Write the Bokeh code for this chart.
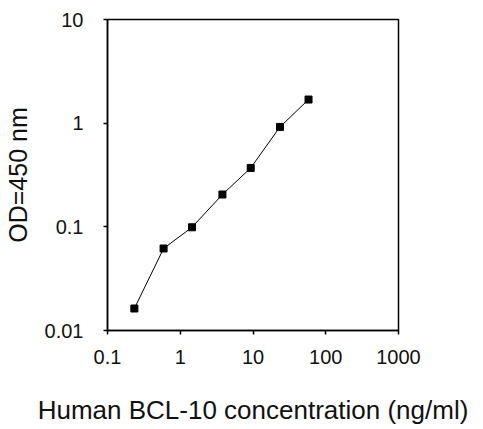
from bokeh.plotting import figure
from bokeh.models import Range1d, FixedTicker
from bokeh.embed import file_html
from bokeh.resources import INLINE

# Data
concentration = [0.234, 0.59, 1.45, 3.8, 9.3, 23.5, 58.0]
od450 = [0.0163, 0.0618, 0.099, 0.205, 0.37, 0.92, 1.69]

x_ticks = [0.1, 1, 10, 100, 1000]
x_tick_labels = ["0.1", "1", "10", "100", "1000"]
y_ticks = [0.01, 0.1, 1, 10]
y_tick_labels = ["0.01", "0.1", "1", "10"]

x_label = "Human BCL-10 concentration (ng/ml)"
y_label = "OD=450 nm"

FONT = "Liberation Sans"

p = figure(frame_width=291, frame_height=311, x_axis_type="log", y_axis_type="log",
           x_range=Range1d(0.1, 1000), y_range=Range1d(0.01, 10),
           output_backend="svg", toolbar_location=None,
           min_border_left=97, min_border_right=79,
           min_border_top=19, min_border_bottom=89)

p.background_fill_color = "white"
p.border_fill_color = "white"
p.outline_line_color = "black"
p.outline_line_width = 1.5
p.xgrid.visible = False
p.ygrid.visible = False

p.line(concentration, od450, line_color="black", line_width=1)
p.scatter(concentration, od450, marker="square", size=7,
          fill_color="black", line_color="black")

p.xaxis.ticker = FixedTicker(ticks=x_ticks)
p.yaxis.ticker = FixedTicker(ticks=y_ticks)
p.xaxis.major_label_overrides = {t: l for t, l in zip(x_ticks, x_tick_labels)}
p.yaxis.major_label_overrides = {t: l for t, l in zip(y_ticks, y_tick_labels)}

for ax in (p.xaxis, p.yaxis):
    ax.minor_tick_line_color = None
    ax.major_tick_in = 0
    ax.major_tick_out = 4
    ax.major_tick_line_color = "black"
    ax.major_tick_line_width = 1.5
    ax.axis_line_color = "black"
    ax.axis_line_width = 1.5
    ax.major_label_text_font = FONT
    ax.major_label_text_font_size = "20px"
    ax.major_label_text_color = "#111111"
    ax.axis_label_text_font = FONT
    ax.axis_label_text_font_style = "normal"
    ax.axis_label_text_color = "#111111"

p.xaxis.axis_label_text_font_size = "26px"
p.yaxis.axis_label_text_font_size = "25px"
p.xaxis.axis_label = x_label
p.yaxis.axis_label = y_label
p.xaxis.major_label_standoff = 15
p.yaxis.major_label_standoff = 20
p.xaxis.axis_label_standoff = 28
p.yaxis.axis_label_standoff = 10

open("out.html", "w").write(file_html(p, INLINE))
